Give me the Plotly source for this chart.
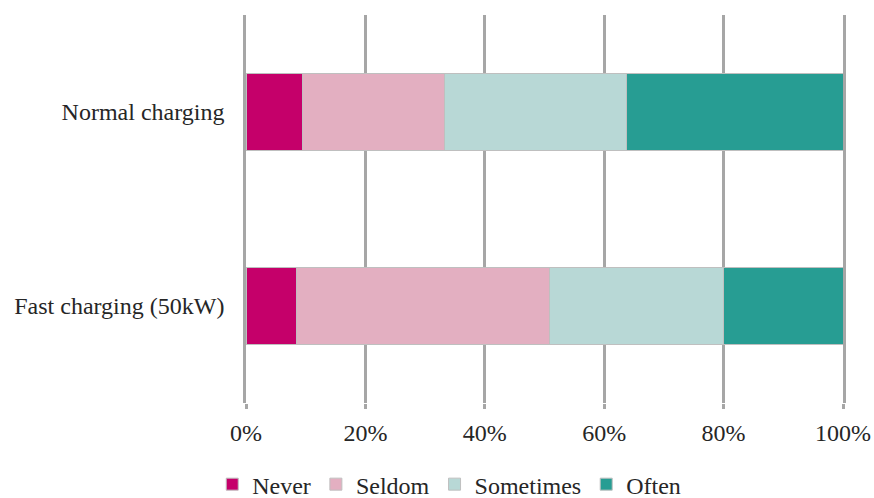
import plotly.graph_objects as go

categories = ["Fast charging (50kW)", "Normal charging"]
series_names = ["Never", "Seldom", "Sometimes", "Often"]
never = [0.085, 0.094]
seldom = [0.424, 0.238]
sometimes = [0.290, 0.306]
often = [0.201, 0.362]
values = [never, seldom, sometimes, often]
colors = ["#C5006A", "#E3AFC1", "#B8D8D6", "#279D93"]
x_ticks = [0, 0.2, 0.4, 0.6, 0.8, 1.0]
x_ticklabels = ["0%", "20%", "40%", "60%", "80%", "100%"]

fig = go.Figure()
for name, vals, c in zip(series_names, values, colors):
    fig.add_trace(go.Bar(
        y=categories, x=vals, name=name, orientation="h",
        marker=dict(color=c, line=dict(color="#BFBFBF", width=1)),
    ))

font = dict(family="Liberation Serif", size=24, color="#262626")
grid = "#A6A6A6"
fig.update_layout(
    barmode="stack",
    bargap=0.6,
    width=874, height=498,
    margin=dict(l=246, r=31, t=15, b=95),
    plot_bgcolor="white", paper_bgcolor="white",
    font=font,
    legend=dict(orientation="h", x=0.514, xanchor="center", xref="container",
                y=0.027, yanchor="middle", yref="container",
                font=font, traceorder="normal", itemwidth=30),
    xaxis=dict(range=[0, 1], tickvals=x_ticks, ticktext=x_ticklabels,
               showgrid=True, gridcolor=grid, gridwidth=2.5,
               zeroline=False, showline=False, automargin=False,
               ticks="outside", ticklen=5, tickcolor=grid, tickwidth=2.5,
               ticklabelstandoff=3),
    yaxis=dict(showgrid=False, zeroline=False, showline=True, mirror=True,
               linecolor=grid, linewidth=2.5, automargin=False,
               ticks="", ticklabelstandoff=14),
)
fig.write_html("out.html")
